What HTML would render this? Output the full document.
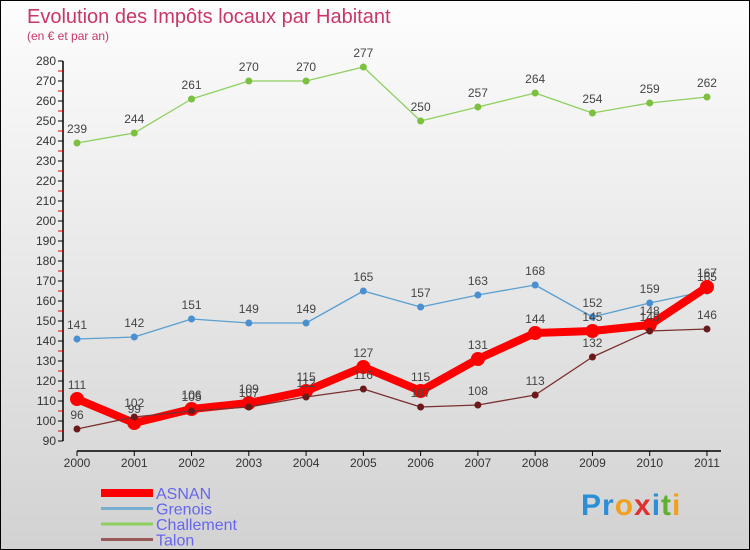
<!DOCTYPE html>
<html><head><meta charset="utf-8"><style>
body{margin:0;}
#c{position:relative;width:750px;height:550px;box-sizing:border-box;border:1px solid #000;background:linear-gradient(#fdfdfd,#d2d2d2);font-family:"Liberation Sans",sans-serif;overflow:hidden}
svg{position:absolute;left:0;top:0}
</style></head><body>
<div id="c">
<svg id="s" width="750" height="550">
<text x="26" y="22" font-size="20" fill="#c8366a">Evolution des Impôts locaux par Habitant</text>
<text x="26" y="39" font-size="12" fill="#c8366a">(en € et par an)</text>
</svg>
<div style="position:absolute;left:580px;top:488px;font-size:30px;font-weight:bold;letter-spacing:1px"><span style="color:#2a8fd6">Pr</span><span style="color:#f0a020">o</span><span style="color:#e03030">x</span><span style="color:#2a8fd6">i</span><span style="color:#60b030">t</span><span style="color:#f0a020">i</span></div>
</div>
<script>
const years=[2000,2001,2002,2003,2004,2005,2006,2007,2008,2009,2010,2011];
const asnan=[111,99,106,109,115,127,115,131,144,145,148,167];
const grenois=[141,142,151,149,149,165,157,163,168,152,159,165];
const challement=[239,244,261,270,270,277,250,257,264,254,259,262];
const talon=[96,102,105,107,112,116,107,108,113,132,145,146];
const yTicks=[90,100,110,120,130,140,150,160,170,180,190,200,210,220,230,240,250,260,270,280];
const NS="http://www.w3.org/2000/svg",s=document.getElementById('s');
const X=i=>76+i*57.27, Y=v=>440-(v-90)*2;
function el(t,a,p){const e=document.createElementNS(NS,t);for(const k in a)e.setAttribute(k,a[k]);(p||s).appendChild(e);return e;}
let e=el('line',{x1:62,y1:60,x2:62,y2:440,stroke:'#000','stroke-width':1.5});


yTicks.forEach(v=>{
 el('line',{x1:57,y1:Y(v),x2:62,y2:Y(v),stroke:'#000'});
 if(v<280)el('line',{x1:57,y1:Y(v+5),x2:62,y2:Y(v+5),stroke:'#e00'});
 const t=el('text',{x:55,y:Y(v)+4,'font-size':12,fill:'#333','text-anchor':'end'});t.textContent=v;
 
 
});
e=el('line',{x1:76,y1:450,x2:720,y2:450,stroke:'#000','stroke-width':1.5});


years.forEach((y,i)=>{
 el('line',{x1:X(i),y1:450,x2:X(i),y2:455,stroke:'#000'});
 const t=el('text',{x:X(i),y:466,'font-size':12,fill:'#333','text-anchor':'middle'});t.textContent=y;
 
 
});
function series(d,col,dot,w,r,name){
 const g=el('g',{});
 
 
 el('polyline',{points:d.map((v,i)=>X(i)+','+Y(v)).join(' '),fill:'none',stroke:col,'stroke-width':w,'stroke-linejoin':'round'},g);
 d.forEach((v,i)=>{
  const c=el('circle',{cx:X(i),cy:Y(v),r:r,fill:dot},g);
  
  
  const t=el('text',{x:X(i),y:Y(v)-10,'font-size':12,fill:'#444','text-anchor':'middle'},g);t.textContent=v;
  
  
 });
}
series(challement,'#8ed060','#7cc040',1.3,3.5,'challement');
series(grenois,'#5a9fd0','#4a90d0',1.3,3.5,'grenois');
series(asnan,'#f00','#f00',8,7,'asnan');
series(talon,'#7a3030','#6a1a1a',1.3,3.5,'talon');
const leg=[['ASNAN','#f00',8],['Grenois','#7aaed0',3],['Challement','#8ed060',3],['Talon','#9a5a5a',3]];
leg.forEach((l,i)=>{
 const y=492+i*15.5;
 const ln=el('line',{x1:100,y1:y,x2:152,y2:y,stroke:l[1],'stroke-width':l[2]});
 
 
 const t=el('text',{x:155,y:y+6,'font-size':16,fill:'#6666ee'});t.textContent=l[0];
 
 
});
</script>
</body></html>
